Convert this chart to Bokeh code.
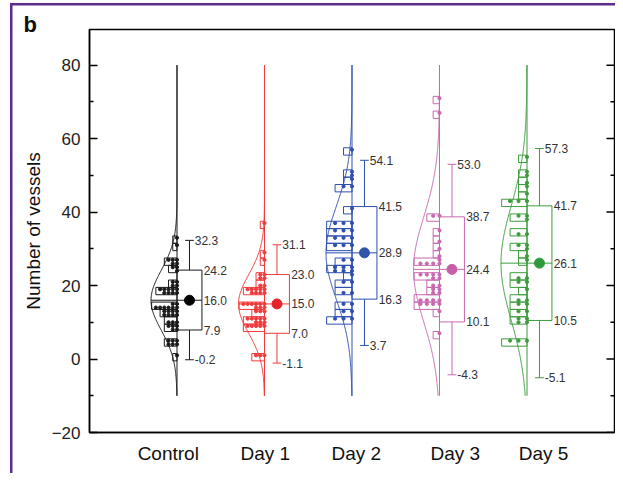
import numpy as np
from bokeh.plotting import figure
from bokeh.models import FixedTicker, Range1d
from bokeh.embed import file_html
from bokeh.resources import INLINE
from bokeh.core.properties import value

# ---------------- data ----------------
groups = ["Control", "Day 1", "Day 2", "Day 3", "Day 5"]
group_pos = [1, 2, 3, 4, 5]
label_pos = [0.90, 2.01, 3.05, 4.18, 5.19]
colors = ["#1a1a1a", "#ef3b3b", "#2e4fae", "#c868b0", "#3d9c3d"]
mean_colors = ["#000000", "#e8222a", "#2f56a8", "#c560a8", "#2e9a3e"]

mean_vals = [16.0, 15.0, 28.9, 24.4, 26.1]
sd_upper = [24.2, 23.0, 41.5, 38.7, 41.7]
sd_lower = [7.9, 7.0, 16.3, 10.1, 10.5]
whisker_upper = [32.3, 31.1, 54.1, 53.0, 57.3]
whisker_lower = [-0.2, -1.1, 3.7, -4.3, -5.1]

control_values = [33, 31, 27, 26, 25, 24, 21, 20, 19, 18, 15, 14, 13, 12, 10, 9, 8, 5, 4, 1]
control_counts = [1, 1, 3, 2, 2, 1, 2, 2, 5, 4, 2, 6, 4, 4, 3, 3, 2, 3, 3, 1]
day1_values = [37, 29, 27, 23, 22, 20, 19, 18, 15, 14, 13, 11, 10, 9, 1]
day1_counts = [1, 1, 1, 2, 2, 2, 5, 4, 6, 3, 3, 5, 3, 5, 3]
day2_values = [57, 51, 50, 49, 47, 41, 37, 35, 33, 31, 27, 25, 24, 23, 21, 18, 15, 13, 11]
day2_counts = [1, 1, 1, 1, 2, 1, 3, 3, 3, 3, 2, 3, 3, 1, 2, 2, 2, 2, 3]
day3_values = [71, 67, 39, 35, 32, 30, 28, 27, 26, 23, 22, 20, 19, 18, 16, 15, 13, 7]
day3_counts = [1, 1, 2, 1, 1, 1, 1, 1, 4, 4, 2, 2, 2, 2, 4, 4, 1, 1]
day5_values = [55, 51, 50, 48, 47, 45, 43, 39, 38, 34, 31, 30, 28, 27, 22, 21, 19, 16, 15, 13, 11, 10, 5]
day5_counts = [1, 1, 1, 1, 1, 1, 3, 2, 1, 2, 2, 1, 1, 1, 2, 2, 1, 2, 2, 2, 2, 2, 3]

y_ticks = [-20, 0, 20, 40, 60, 80]
y_minor = [-10, 10, 30, 50, 70]

all_values = [control_values, day1_values, day2_values, day3_values, day5_values]
all_counts = [control_counts, day1_counts, day2_counts, day3_counts, day5_counts]

# ---------------- style constants ----------------
FONT = "Liberation Sans"
PURPLE = "#5b2c8e"
PEAK = 0.297      # half-violin peak width (x units)
BAR_MAX = 0.29    # longest dot row / bar (x units)
BOXW = 0.285
CAP = 0.05
BIN = 2.0
X0, X1, Y0, Y1 = 0.0, 6.0, -20.0, 89.7

p = figure(width=615, height=473, x_range=Range1d(X0, X1), y_range=Range1d(Y0, Y1),
           output_backend="svg", toolbar_location=None,
           min_border_left=89, min_border_right=1, min_border_top=29, min_border_bottom=41)
p.grid.visible = False
p.outline_line_color = "black"
p.outline_line_width = 1.5
p.background_fill_color = "white"
p.border_fill_color = None
p.styles = {
    "background-color": "white",
    "background-image": f"linear-gradient({PURPLE},{PURPLE}), linear-gradient({PURPLE},{PURPLE})",
    "background-size": "2.5px 100%, 100% 2.5px",
    "background-position": "9.5px 3px, 9.5px 3px",
    "background-repeat": "no-repeat",
}

# title "b"
p.title.text = "b"
p.title.text_font = FONT
p.title.text_font_size = "22px"
p.title.text_font_style = "bold"
p.title.text_color = "#111111"
p.title.align = "left"
p.title.offset = -66
p.title.standoff = -14

yticker = FixedTicker(ticks=y_ticks, minor_ticks=y_minor)
ya = p.yaxis[0]
ya.ticker = yticker
ya.major_label_overrides = {-20: "\u221220"}
ya.major_tick_in = 8
ya.major_tick_out = 0
ya.minor_tick_in = 4
ya.minor_tick_out = 0
ya.axis_line_width = 1.5
ya.major_tick_line_width = 1.5
ya.minor_tick_line_width = 1.5
ya.major_label_text_font = FONT
ya.major_label_text_font_size = "17px"
ya.major_label_text_color = "#222222"
ya.major_label_standoff = 9
ya.axis_label = "Number of vessels"
ya.axis_label_text_font = FONT
ya.axis_label_text_font_size = "19px"
ya.axis_label_text_font_style = "normal"
ya.axis_label_text_color = "#111111"
ya.axis_label_standoff = 5

xa = p.xaxis[0]
xa.ticker = FixedTicker(ticks=label_pos)
xa.major_label_overrides = {lp: g for lp, g in zip(label_pos, groups)}
xa.major_tick_in = 0
xa.major_tick_out = 0
xa.axis_line_width = 1.5
xa.major_label_text_font = FONT
xa.major_label_text_font_size = "19px"
xa.major_label_text_color = "#111111"
xa.major_label_standoff = 10

# mirrored inward ticks on the right frame edge
px_per_x = (615 - 89 - 1) / (X1 - X0)
p.segment(x0=[X1 - 8 / px_per_x] * len(y_ticks), x1=[X1] * len(y_ticks), y0=y_ticks, y1=y_ticks,
          line_color="black", line_width=1.5)
p.segment(x0=[X1 - 4 / px_per_x] * len(y_minor), x1=[X1] * len(y_minor), y0=y_minor, y1=y_minor,
          line_color="black", line_width=1.5)

edges = np.arange(-12.5, 92, BIN)
ycurve = np.linspace(-10, 80, 400)

for i in range(5):
    pos = group_pos[i]
    col = colors[i]
    m = mean_vals[i]
    sd = (sd_upper[i] - sd_lower[i]) / 2.0
    vals = np.array(all_values[i])
    cnts = np.array(all_counts[i])

    # half normal curve + axis line
    xc = pos - PEAK * np.exp(-0.5 * ((ycurve - m) / sd) ** 2)
    p.line(xc, ycurve, line_color=col, line_width=1)
    p.line([pos, pos], [-10, 80], line_color=col, line_width=1)

    # histogram-like bars enclosing the dot rows
    spacing = BAR_MAX / cnts.max()
    bidx = np.digitize(vals, edges) - 1
    bl, bb, bt = [], [], []
    for b in sorted(set(bidx)):
        rowmax = cnts[bidx == b].max()
        bl.append(pos - rowmax * spacing)
        bb.append(edges[b])
        bt.append(edges[b + 1])
    p.quad(left=bl, right=pos, bottom=bb, top=bt, fill_color=None, line_color=col, line_width=1)

    # dots
    dx, dy = [], []
    for v, c in zip(vals, cnts):
        for k in range(c):
            dx.append(pos - k * spacing)
            dy.append(v)
    p.scatter(dx, dy, size=3.2, marker="circle", fill_color=col, line_color=col)

    # box (mean +/- SD), whiskers, mean
    cx = pos + BOXW / 2
    p.quad(left=pos, right=pos + BOXW, bottom=sd_lower[i], top=sd_upper[i],
           fill_color=None, line_color=col, line_width=1)
    p.segment(x0=[pos - PEAK], x1=[pos + BOXW], y0=[m], y1=[m], line_color=col, line_width=1)
    p.segment(x0=[cx, cx, cx - CAP, cx - CAP], x1=[cx, cx, cx + CAP, cx + CAP],
              y0=[sd_upper[i], sd_lower[i], whisker_upper[i], whisker_lower[i]],
              y1=[whisker_upper[i], whisker_lower[i], whisker_upper[i], whisker_lower[i]],
              line_color=col, line_width=1)
    p.scatter([cx], [m], size=10, marker="circle", fill_color=mean_colors[i], line_color=mean_colors[i])

    # value labels
    lx = [pos + BOXW + 0.02] * 3 + [cx + CAP + 0.01] * 2
    ly = [sd_upper[i], m, sd_lower[i], whisker_upper[i], whisker_lower[i]]
    lt = ["%.1f" % v for v in ly]
    p.text(lx, ly, text=lt, text_font=value(FONT), text_font_size="12px",
           text_color="#333333", text_baseline="middle", text_align="left")

open("out.html", "w").write(file_html(p, INLINE))
